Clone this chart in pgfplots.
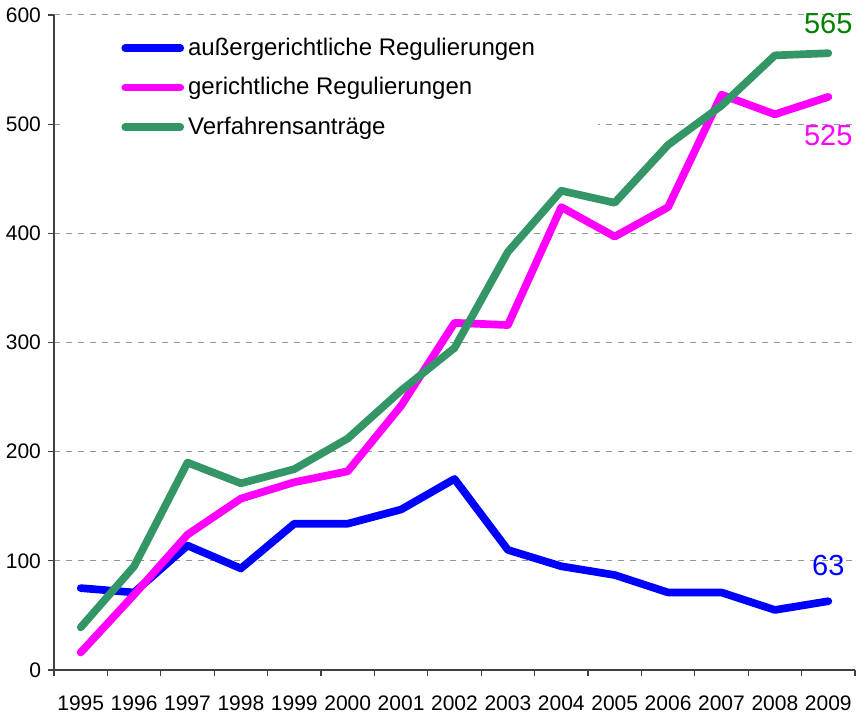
\documentclass[border=0pt]{standalone}
\usepackage{fontspec}
\setmainfont{Liberation Sans}
\usepackage{pgfplots}
\pgfplotsset{compat=1.18}

\definecolor{serblue}{RGB}{0,0,255}
\definecolor{sermag}{RGB}{255,0,255}
\definecolor{sergreen}{RGB}{52,150,102}
\definecolor{lblgreen}{RGB}{0,128,0}
\definecolor{axgray}{RGB}{64,64,64}
\definecolor{gridgray}{RGB}{150,150,150}

\begin{document}
\begin{tikzpicture}
\begin{axis}[
    name=ax,
    scale only axis,
    clip=false,
    width=400.5pt, height=327.5pt,
    xmin=0.5, xmax=15.5, ymin=0, ymax=600,
    axis x line*=bottom, axis y line*=left,
    axis line style={axgray, line width=0.6pt},
    xtick={0.5,1.5,...,15.5},
    xticklabels={},
    extra x ticks={1,2,3,4,5,6,7,8,9,10,11,12,13,14,15},
    extra x tick labels={1995,1996,1997,1998,1999,2000,2001,2002,2003,2004,2005,2006,2007,2008,2009},
    extra x tick style={tick style={draw=none}},
    xticklabel style={yshift=-6.5pt},
    ytick={0,100,...,600},
    major tick length=3pt,
    tick align=outside,
    tick style={axgray, line width=0.6pt},
    ymajorgrids,
    major grid style={gridgray, dashed, line width=0.5pt},
    ticklabel style={font=\fontsize{10.5}{12}\selectfont, text=black},
    /pgf/number format/assume math mode=true,
    legend style={draw=none, fill=white, at={(0.01,0.99)}, anchor=north west,
        font=\fontsize{12}{14}\selectfont, inner xsep=29.5pt, inner ysep=6pt,
        row sep=5.5pt},
    legend cell align=left,
    legend image code/.code={\draw[#1] (0pt,0pt) -- (27.5pt,0pt);},
    every axis plot/.append style={line width=3.85pt, line join=round, line cap=round},
]
\addplot[serblue] coordinates {
    (1,75) (2,71) (3,114) (4,93) (5,134) (6,134) (7,147) (8,175)
    (9,110) (10,95) (11,87) (12,71) (13,71) (14,55) (15,63)};
\addlegendentry{außergerichtliche Regulierungen}
\addplot[sermag] coordinates {
    (1,16) (2,69) (3,124) (4,157) (5,172) (6,182) (7,242) (8,318)
    (9,316) (10,424) (11,397) (12,424) (13,527) (14,509) (15,525)};
\addlegendentry{gerichtliche Regulierungen}
\addplot[sergreen] coordinates {
    (1,39) (2,95) (3,190) (4,171) (5,184) (6,212) (7,256) (8,295)
    (9,383) (10,439) (11,428) (12,481) (13,517) (14,563) (15,565)};
\addlegendentry{Verfahrensanträge}

\node[text=lblgreen, font=\fontsize{14.5}{16}\selectfont] at (axis cs:15,592) {565};
\node[text=sermag, font=\fontsize{14.5}{16}\selectfont] at (axis cs:15,490) {525};
\node[text=serblue, font=\fontsize{14.5}{16}\selectfont] at (axis cs:15,96) {63};
\end{axis}
\pgfresetboundingbox
\path ([shift={(-27pt,-22.5pt)}]ax.south west) rectangle ([shift={(3.5pt,7.5pt)}]ax.north east);
\end{tikzpicture}
\end{document}
